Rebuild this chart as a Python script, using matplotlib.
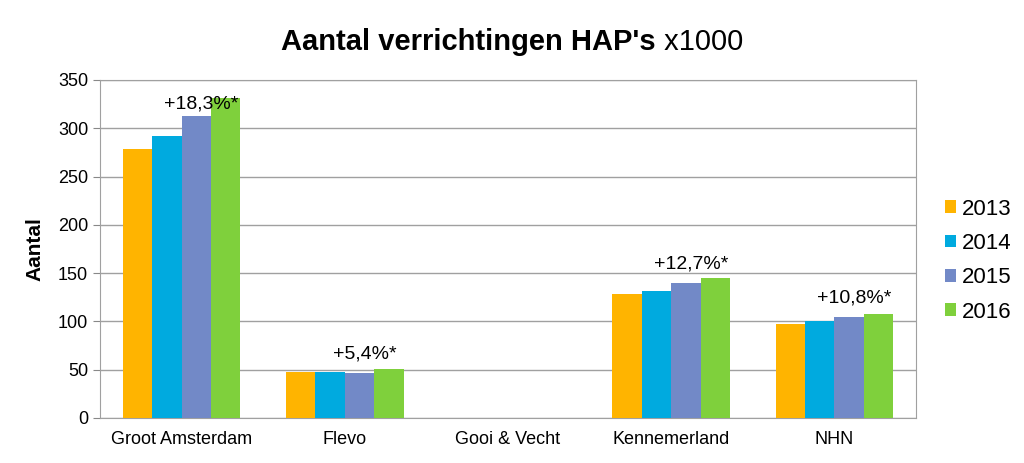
import matplotlib.pyplot as plt
import numpy as np

plt.rcParams['font.family'] = ['Liberation Sans', 'DejaVu Sans']

regions = ["Groot Amsterdam", "Flevo", "Gooi & Vecht", "Kennemerland", "NHN"]
years = ["2013", "2014", "2015", "2016"]
v2013 = [279, 48, np.nan, 128, 97]
v2014 = [292, 48, np.nan, 132, 100]
v2015 = [313, 46.5, np.nan, 140, 105]
v2016 = [331, 51, np.nan, 145, 108]
growth = ["+18,3%*", "+5,4%*", "", "+12,7%*", "+10,8%*"]
growth_y = [316, 57, 0, 151, 115]

colors = ['#FFB400', '#00AADF', '#7289C7', '#7FD03C']

fig = plt.figure(figsize=(10.24, 4.63), dpi=100)
ax = fig.add_axes([100/1024, 45/463, 816/1024, 338/463])

x = np.arange(len(regions))
w = 0.18
series = [v2013, v2014, v2015, v2016]
for i, (vals, yr) in enumerate(zip(series, years)):
    ax.bar(x + (i - 1.5) * w, vals, w, color=colors[i], label=yr, zorder=3)

for i, txt in enumerate(growth):
    if txt:
        ax.text(x[i] + 0.12, growth_y[i], txt, ha='center', va='bottom',
                fontsize=14, zorder=4)

ax.set_xlim(-0.5, len(regions) - 0.5)
ax.set_ylim(0, 350)
ax.set_yticks(range(0, 351, 50))
ax.set_xticks(x)
ax.set_xticklabels(regions, fontsize=13)
ax.tick_params(axis='y', labelsize=13, length=5, color='#888888')
ax.tick_params(axis='x', length=0, pad=9)
ax.yaxis.grid(True, color='#A0A0A0', linewidth=1, zorder=0)
for s in ax.spines.values():
    s.set_color('#A0A0A0')
ax.set_ylabel("Aantal", fontsize=15, fontweight='bold', labelpad=10)

# title: bold part + regular part, centred together
t1 = fig.text(0, 0.91, "Aantal verrichtingen HAP's", ha='left', va='center',
              fontsize=21, fontweight='bold')
t2 = fig.text(0, 0.91, " x1000", ha='left', va='center', fontsize=21)
fig.canvas.draw()
r = fig.canvas.get_renderer()
w1 = t1.get_window_extent(r).width / fig.bbox.width
w2 = t2.get_window_extent(r).width / fig.bbox.width
start = 0.5 - (w1 + w2) / 2
t1.set_x(start)
t2.set_x(start + w1)

ax.legend(loc='center left', bbox_to_anchor=(925/1024, 0.437), bbox_transform=fig.transFigure,
          frameon=False, fontsize=16, handlelength=0.5, handleheight=0.5,
          handletextpad=0.25, labelspacing=0.6)

fig.savefig("out.png", dpi=100)
